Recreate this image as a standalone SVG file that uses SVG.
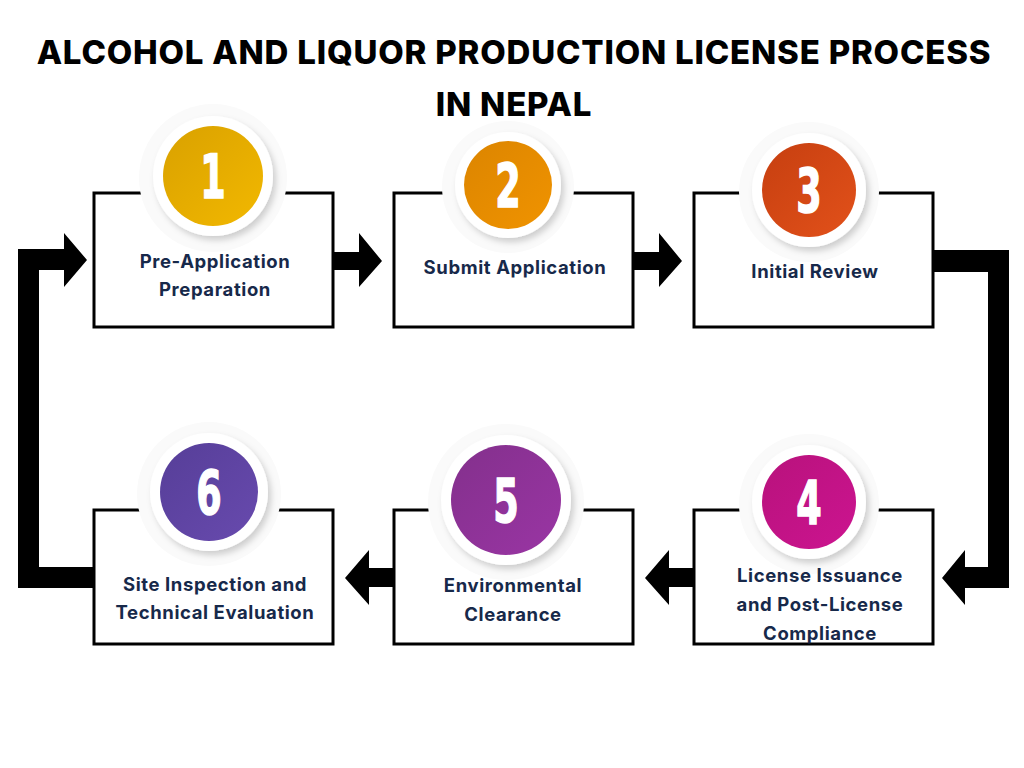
<svg xmlns="http://www.w3.org/2000/svg" width="1024" height="768" viewBox="0 0 1024 768">
<defs>
  <style>
    .title{font-family:Inter,"Liberation Sans",sans-serif;font-weight:800;font-size:33px;fill:#000;text-anchor:middle;letter-spacing:0.8px}
    .box{fill:#fff;stroke:#000;stroke-width:3}
    .lbl{font-family:Inter,"Liberation Sans",sans-serif;font-weight:700;font-size:18.5px;fill:#17294a;text-anchor:middle;letter-spacing:0.6px}
    .num{font-family:"DejaVu Sans",Arial,sans-serif;font-weight:700;font-size:61px;fill:#fff;stroke:#fff;stroke-width:1.6;text-anchor:middle}
    .halo{fill:#fafafa}
    .ring{fill:#fff;filter:url(#sh)}
    .arr{fill:#000}
  </style>
  <filter id="sh" x="-30%" y="-30%" width="160%" height="160%">
    <feDropShadow dx="3" dy="4" stdDeviation="3" flood-color="#000" flood-opacity="0.18"/>
  </filter>
  <linearGradient id="g1" x1="0" y1="0" x2="1" y2="1"><stop offset="0" stop-color="#d9a100"/><stop offset="1" stop-color="#f2b800"/></linearGradient>
  <linearGradient id="g2" x1="0" y1="0" x2="1" y2="1"><stop offset="0" stop-color="#dc8500"/><stop offset="1" stop-color="#f09300"/></linearGradient>
  <linearGradient id="g3" x1="0" y1="0" x2="1" y2="1"><stop offset="0" stop-color="#c63f10"/><stop offset="1" stop-color="#e2511a"/></linearGradient>
  <linearGradient id="g4" x1="0" y1="0" x2="1" y2="1"><stop offset="0" stop-color="#b8127c"/><stop offset="1" stop-color="#cc1490"/></linearGradient>
  <linearGradient id="g5" x1="0" y1="0" x2="1" y2="1"><stop offset="0" stop-color="#83308c"/><stop offset="1" stop-color="#9a35a4"/></linearGradient>
  <linearGradient id="g6" x1="0" y1="0" x2="1" y2="1"><stop offset="0" stop-color="#563e98"/><stop offset="1" stop-color="#684aae"/></linearGradient>
</defs>
<rect width="1024" height="768" fill="#fff"/>
<text class="title" x="514" y="64">ALCOHOL AND LIQUOR PRODUCTION LICENSE PROCESS</text>
<text class="title" x="514" y="116">IN NEPAL</text>

<g id="connectors">
  <polygon class="arr" points="333,252 359,252 359,233 382,261 359,287 359,270 333,270"/>
  <polygon class="arr" points="633,252 659,252 659,233 682,261 659,287 659,270 633,270"/>
  <polygon class="arr" points="933,250 1009,250 1009,588 965,588 965,605 942,578 965,550 965,567 988,567 988,272 933,272"/>
  <polygon class="arr" points="695,568 669,568 669,550 645,578 669,605 669,587 695,587"/>
  <polygon class="arr" points="395,568 369,568 369,550 345,578 369,605 369,587 395,587"/>
  <polygon class="arr" points="95,588 18,588 18,249 64,249 64,233 87,260 64,287 64,270 39,270 39,567 95,567"/>
</g>

<g id="node1">
  <rect class="box" x="94" y="193" width="239" height="134"/>
  <circle class="halo" cx="213" cy="178" r="74"/>
  <circle class="ring" cx="213" cy="176" r="60"/>
  <circle cx="213" cy="176" r="50" fill="url(#g1)"/>
  <text class="num" x="0" y="198" transform="translate(213 0) scale(0.6 1)">1</text>
  <text class="lbl" x="215" y="268">Pre-Application</text>
  <text class="lbl" x="215" y="296">Preparation</text>
</g>
<g id="node2">
  <rect class="box" x="394" y="193" width="239" height="134"/>
  <circle class="halo" cx="508" cy="187" r="66"/>
  <circle class="ring" cx="508" cy="185" r="53"/>
  <circle cx="508" cy="185" r="44" fill="url(#g2)"/>
  <text class="num" x="0" y="207" transform="translate(508 0) scale(0.6 1)">2</text>
  <text class="lbl" x="515" y="274">Submit Application</text>
</g>
<g id="node3">
  <rect class="box" x="694" y="193" width="239" height="134"/>
  <circle class="halo" cx="809" cy="192" r="70"/>
  <circle class="ring" cx="809" cy="190" r="57"/>
  <circle cx="809" cy="190" r="47" fill="url(#g3)"/>
  <text class="num" x="0" y="212" transform="translate(809 0) scale(0.6 1)">3</text>
  <text class="lbl" x="815" y="278">Initial Review</text>
</g>
<g id="node4">
  <rect class="box" x="694" y="510" width="239" height="134"/>
  <circle class="halo" cx="809" cy="504" r="70"/>
  <circle class="ring" cx="809" cy="502" r="57"/>
  <circle cx="809" cy="502" r="47" fill="url(#g4)"/>
  <text class="num" x="0" y="524" transform="translate(809 0) scale(0.6 1)">4</text>
  <text class="lbl" x="820" y="582">License Issuance</text>
  <text class="lbl" x="820" y="611">and Post-License</text>
  <text class="lbl" x="820" y="640">Compliance</text>
</g>
<g id="node5">
  <rect class="box" x="394" y="510" width="239" height="134"/>
  <circle class="halo" cx="506" cy="502" r="78"/>
  <circle class="ring" cx="506" cy="500" r="65"/>
  <circle cx="506" cy="500" r="55" fill="url(#g5)"/>
  <text class="num" x="0" y="522" transform="translate(506 0) scale(0.6 1)">5</text>
  <text class="lbl" x="513" y="592">Environmental</text>
  <text class="lbl" x="513" y="621">Clearance</text>
</g>
<g id="node6">
  <rect class="box" x="94" y="510" width="239" height="134"/>
  <circle class="halo" cx="209" cy="494" r="72"/>
  <circle class="ring" cx="209" cy="492" r="59"/>
  <circle cx="209" cy="492" r="49" fill="url(#g6)"/>
  <text class="num" x="0" y="514" transform="translate(209 0) scale(0.6 1)">6</text>
  <text class="lbl" x="215" y="591">Site Inspection and</text>
  <text class="lbl" x="215" y="619">Technical Evaluation</text>
</g>
</svg>
